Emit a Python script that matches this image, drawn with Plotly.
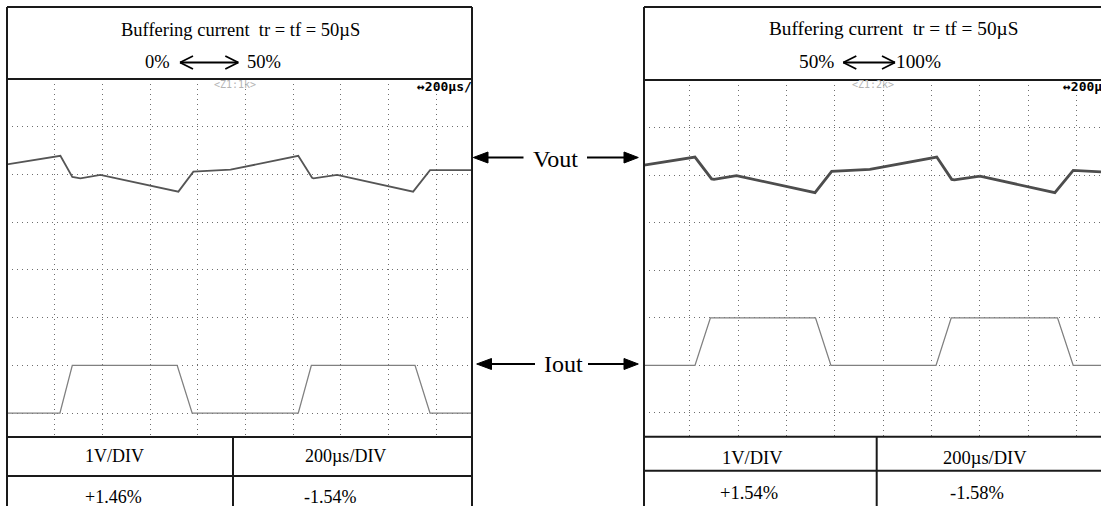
import plotly.graph_objects as go

W, H = 1101, 506

# ---- captured waveforms (time in µs, amplitude in screen divisions) ----
# left capture: load step 0% <-> 50%
t_vout_a = [0, 224, 274, 308, 392, 719, 782, 938, 1222, 1280, 1286, 1385, 1704, 1775, 1951]
vout_a = [5.21, 5.39, 4.95, 4.92, 4.99, 4.64, 5.06, 5.10, 5.39, 4.93, 4.92, 4.99, 4.64, 5.09, 5.09]
t_iout_a = [0, 222, 274, 714, 777, 1222, 1277, 1712, 1775, 1951]
iout_a = [0, 0, 1, 1, 0, 0, 1, 1, 0, 0]

# right capture: load step 50% <-> 100%
t_vout_b = [10, 221, 290, 300, 393, 718, 787, 945, 1222, 1284, 1295, 1401, 1711, 1787, 1902]
vout_b = [5.21, 5.38, 4.92, 4.91, 4.99, 4.63, 5.08, 5.12, 5.38, 4.91, 4.90, 4.98, 4.63, 5.10, 5.07]
t_iout_b = [10, 221, 285, 720, 784, 1219, 1282, 1722, 1787, 1902]
iout_b = [1, 1, 2, 2, 1, 1, 2, 2, 1, 1]

grid_t = [200, 400, 600, 800, 1000, 1200, 1400, 1600, 1800]
grid_div = [0, 1, 2, 3, 4, 5, 6]

title_text = "Buffering current \u00a0tr = tf = 50µS"
step_a = ["0%", "50%"]
step_b = ["50%", "100%"]
scale_labels = ["1V/DIV", "200µs/DIV"]
dev_a = ["+1.46%", "-1.54%"]
dev_b = ["+1.54%", "-1.58%"]
zoom_a, zoom_b = "<Z1:1k>", "<Z1:2k>"
tb_a, tb_b = "↔200µs/", "↔200µ"


def fx(x):
    return x / W


def fy(y):
    return 1 - y / H


fig = go.Figure()

fig.add_trace(go.Scatter(x=t_iout_a, y=iout_a, mode="lines", xaxis="x", yaxis="y",
                         line=dict(color="#808080", width=1.3), hoverinfo="skip"))
fig.add_trace(go.Scatter(x=t_vout_a, y=vout_a, mode="lines", xaxis="x", yaxis="y",
                         line=dict(color="#555555", width=1.8), hoverinfo="skip"))
fig.add_trace(go.Scatter(x=t_iout_b, y=iout_b, mode="lines", xaxis="x2", yaxis="y2",
                         line=dict(color="#808080", width=1.3), hoverinfo="skip"))
fig.add_trace(go.Scatter(x=t_vout_b, y=vout_b, mode="lines", xaxis="x2", yaxis="y2",
                         line=dict(color="#4d4d4d", width=2.8), hoverinfo="skip"))

axis_common = dict(showticklabels=False, ticks="", zeroline=False, showline=False,
                   showgrid=True, gridcolor="#6e6e6e", gridwidth=1, griddash="1px,4px",
                   tickmode="array", fixedrange=True)

fig.update_layout(
    width=W, height=H, autosize=False,
    margin=dict(l=0, r=0, t=0, b=0),
    paper_bgcolor="white", plot_bgcolor="white",
    showlegend=False,
    xaxis=dict(domain=[fx(7), fx(472)], range=[0, 1951], tickvals=grid_t, anchor="y", **axis_common),
    yaxis=dict(domain=[fy(437), fy(79)], range=[-0.5, 7], tickvals=grid_div, anchor="x", **axis_common),
    xaxis2=dict(domain=[fx(644), 1], range=[10, 1902], tickvals=grid_t, anchor="y2", **axis_common),
    yaxis2=dict(domain=[fy(436.7), fy(80)], range=[-0.5, 7], tickvals=grid_div, anchor="x2", **axis_common),
)

shapes = []


def seg(x0, y0, x1, y1, w=2, color="#1a1a1a"):
    shapes.append(dict(type="line", xref="paper", yref="paper",
                       x0=fx(x0), y0=fy(y0), x1=fx(x1), y1=fy(y1),
                       line=dict(color=color, width=w), layer="above"))


def tri(tip_x, y, base_x, half=5.5):
    path = "M {} {} L {} {} L {} {} Z".format(
        fx(tip_x), fy(y), fx(base_x), fy(y - half), fx(base_x), fy(y + half))
    shapes.append(dict(type="path", xref="paper", yref="paper", path=path,
                       fillcolor="#000", line=dict(color="#000", width=1), layer="above"))


def chevron_arrow(x0, x1, y, arm=13, half=6.5):
    seg(x0, y, x1, y, w=1.8, color="#000")
    seg(x0, y, x0 + arm, y - half, w=1.8, color="#000")
    seg(x0, y, x0 + arm, y + half, w=1.8, color="#000")
    seg(x1, y, x1 - arm, y - half, w=1.8, color="#000")
    seg(x1, y, x1 - arm, y + half, w=1.8, color="#000")


# left panel frame and table
seg(7, 7, 472, 7)
seg(7, 7, 7, 506)
seg(472, 7, 472, 506)
seg(7, 79, 472, 79)
seg(7, 437, 472, 437)
seg(7, 476, 472, 476)
seg(233, 437, 233, 506)

# right panel frame and table
seg(644, 7, 1101, 7)
seg(644, 7, 644, 506)
seg(644, 80, 1101, 80)
seg(644, 436.7, 1101, 436.7)
seg(644, 470.7, 1101, 470.7)
seg(876.7, 436.7, 876.7, 506)

# load step arrows in the titles
chevron_arrow(180, 238.3, 62.5)
chevron_arrow(843.3, 895, 62.5)

# Vout / Iout pointers between the panels
seg(486, 157.5, 523.5, 157.5, w=2, color="#000")
tri(473.3, 157.5, 488)
seg(587, 157.5, 626, 157.5, w=2, color="#000")
tri(638.3, 157.5, 624)
seg(490, 364, 535, 364, w=2, color="#000")
tri(476.7, 364, 491.5)
seg(588, 364, 626, 364, w=2, color="#000")
tri(638.3, 364, 624)

fig.update_layout(shapes=shapes)

serif = "Liberation Serif, Times New Roman, serif"
mono = "DejaVu Sans Mono, monospace"
ann = []


def label(x, y, text, size, family=serif, color="#000", xanchor="center"):
    ann.append(dict(x=fx(x), y=fy(y), xref="paper", yref="paper", text=text,
                    showarrow=False, xanchor=xanchor, yanchor="middle",
                    font=dict(family=family, size=size, color=color)))


label(240, 29.5, title_text, 18.5)
label(157.5, 62, step_a[0], 18.5)
label(264, 62, step_a[1], 18.5)
label(893.3, 28.5, title_text, 19.3)
label(816, 62, step_b[0], 19.3)
label(918, 62, step_b[1], 19.3)

label(114, 456, scale_labels[0], 18)
label(345, 456, scale_labels[1], 18)
label(113, 496.5, dev_a[0], 18)
label(330, 496.5, dev_a[1], 18)
label(752.5, 458, scale_labels[0], 18.5)
label(985, 458, scale_labels[1], 18.5)
label(749, 493, dev_b[0], 18.5)
label(977, 493, dev_b[1], 18.5)

label(555, 158.5, "Vout", 24)
label(563.5, 364, "Iout", 24)

label(235, 84.5, zoom_a, 10, family=mono, color="#b4b4b4")
label(873, 84.5, zoom_b, 10, family=mono, color="#b4b4b4")
label(474, 86, "<b>" + tb_a + "</b>", 13, family=mono, xanchor="right")
label(1104, 86, "<b>" + tb_b + "</b>", 13, family=mono, xanchor="right")

fig.update_layout(annotations=ann)

fig.write_html("out.html")
